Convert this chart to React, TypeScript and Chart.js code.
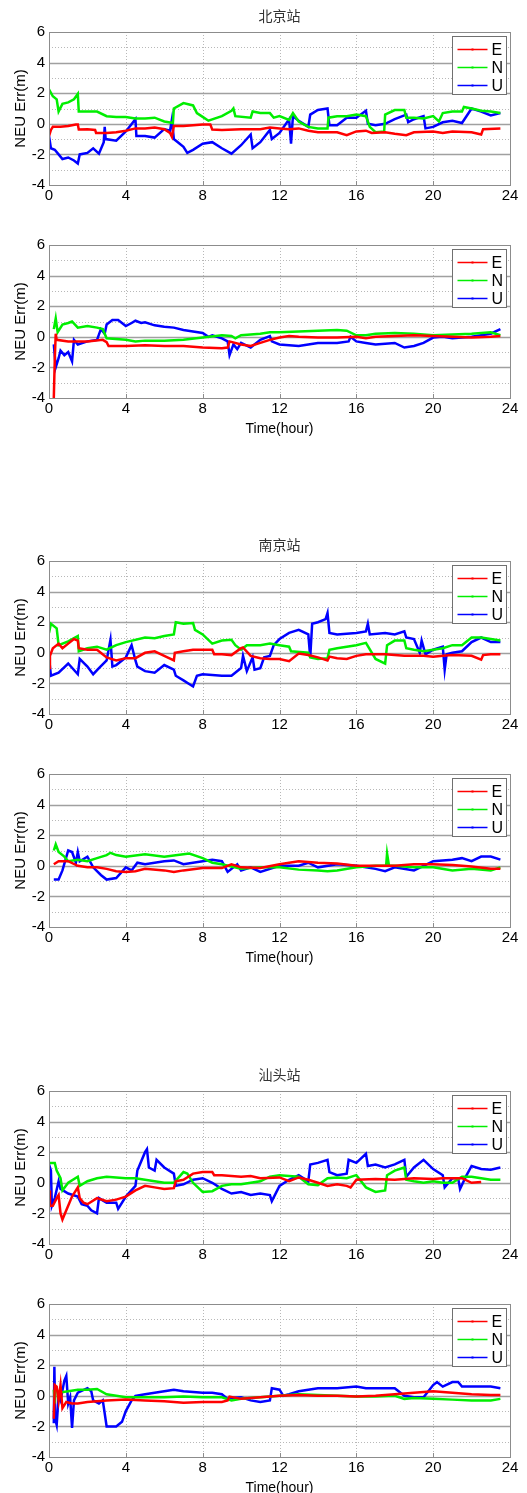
import React, { useEffect, useRef } from "react";
import { Chart, registerables } from "chart.js";

Chart.register(...registerables);

// ---------- DATA: [time(hour), error(m)] ----------
const X_TICKS = [0, 4, 8, 12, 16, 20, 24];
const Y_TICKS = [-4, -2, 0, 2, 4, 6];
const SERIES_LABELS = ["E", "N", "U"];
const SERIES_COLORS = ["#ff0000", "#00ee00", "#0000ff"];
const STATION_TITLES = ["北京站", "", "南京站", "", "汕头站", ""];

// Beijing, panel 1
const BJ1_E = [[0,-0.8],[0.1,-0.4],[0.2,-0.2],[0.6,-0.2],[1.0,-0.15],[1.4,-0.05],[1.5,-0.05],[1.55,-0.37],[2.0,-0.35],[2.4,-0.4],[2.45,-0.6],[3.0,-0.6],[3.5,-0.55],[4.0,-0.45],[4.5,-0.3],[5.0,-0.3],[5.5,-0.25],[6.0,-0.35],[6.3,-0.6],[6.4,-0.85],[6.5,-0.15],[7.0,-0.15],[7.5,-0.1],[8.0,-0.05],[8.4,-0.05],[8.5,-0.38],[9.0,-0.4],[10.0,-0.35],[11.0,-0.35],[11.5,-0.25],[12.0,-0.3],[12.5,-0.35],[13.0,-0.3],[13.5,-0.45],[14.0,-0.55],[15.0,-0.55],[15.5,-0.75],[16.0,-0.5],[16.5,-0.45],[16.8,-0.6],[17.5,-0.55],[18.0,-0.65],[18.6,-0.75],[19.0,-0.55],[20.0,-0.5],[20.5,-0.6],[21.0,-0.5],[22.0,-0.55],[22.5,-0.7],[22.6,-0.35],[23.5,-0.3]];
const BJ1_N = [[0,2.25],[0.2,1.8],[0.4,1.6],[0.5,0.8],[0.7,1.3],[1.0,1.4],[1.3,1.6],[1.5,1.95],[1.55,0.8],[2.0,0.8],[2.5,0.8],[3.0,0.5],[3.5,0.45],[4.0,0.45],[4.5,0.35],[5.0,0.35],[5.5,0.4],[6.0,0.15],[6.45,0.05],[6.5,1.0],[7.0,1.35],[7.5,1.2],[7.7,0.7],[8.0,0.45],[8.3,0.2],[9.0,0.5],[9.5,0.85],[9.6,1.0],[9.7,0.5],[10.5,0.4],[10.6,0.8],[11.0,0.7],[11.5,0.7],[11.7,0.4],[12.0,0.5],[12.5,0.25],[12.7,0.7],[13.0,0.15],[13.5,-0.2],[14.0,-0.3],[14.5,-0.3],[14.55,0.4],[15.0,0.5],[15.5,0.5],[16.0,0.6],[16.5,0.5],[16.7,-0.2],[17.0,-0.55],[17.45,-0.5],[17.5,0.6],[18.0,0.9],[18.5,0.9],[18.6,0.4],[19.0,0.4],[19.5,0.35],[20.0,0.5],[20.3,0.15],[20.5,0.7],[21.0,0.8],[21.5,0.8],[21.6,1.1],[22.0,1.0],[22.5,0.85],[23.0,0.8],[23.5,0.7]];
const BJ1_U = [[0,-0.8],[0.1,-1.6],[0.3,-1.7],[0.5,-2.0],[0.7,-2.3],[1.0,-2.2],[1.3,-2.4],[1.5,-2.6],[1.6,-2.0],[2.0,-1.9],[2.3,-1.6],[2.6,-1.95],[2.85,-1.2],[2.9,-0.2],[2.95,-1.0],[3.5,-1.1],[4.0,-0.5],[4.5,0.3],[4.55,-0.8],[5.0,-0.8],[5.5,-0.9],[6.0,-0.35],[6.3,-0.45],[6.4,0.3],[6.5,-1.0],[7.0,-1.5],[7.2,-1.9],[7.5,-1.7],[8.0,-1.3],[8.5,-1.2],[9.0,-1.6],[9.5,-1.95],[10.0,-1.4],[10.5,-0.7],[10.6,-1.6],[11.0,-1.2],[11.5,-0.4],[11.6,-1.0],[12.0,-0.6],[12.5,0.3],[12.6,-1.3],[12.7,0.5],[13.0,0.2],[13.5,-0.2],[13.6,0.6],[14.0,0.9],[14.5,1.0],[14.6,-0.1],[15.0,-0.1],[15.5,0.4],[16.0,0.4],[16.5,0.85],[16.6,0.0],[17.0,-0.1],[17.5,0.0],[18.0,0.3],[18.6,0.6],[18.7,0.1],[19.0,0.3],[19.5,0.5],[19.6,-0.3],[20.0,-0.2],[20.5,0.1],[21.0,0.2],[21.5,0.05],[22.0,1.0],[22.5,0.8],[23.0,0.55],[23.5,0.7]];

// Beijing, panel 2
const BJ2_E = [[0.25,-4.0],[0.3,-1.5],[0.35,0.2],[0.4,-0.2],[1.0,-0.3],[2.0,-0.3],[2.8,-0.2],[3.0,-0.35],[3.1,-0.6],[4.0,-0.6],[5.0,-0.55],[6.0,-0.6],[7.0,-0.6],[8.0,-0.7],[9.0,-0.75],[9.3,-0.7],[9.4,-0.3],[10.0,-0.5],[10.5,-0.6],[11.0,-0.4],[11.5,-0.2],[12.0,-0.05],[12.5,0.05],[13.0,0.0],[14.0,-0.05],[15.0,-0.05],[16.0,0.0],[16.5,-0.1],[17.0,0.0],[18.0,0.05],[19.0,0.1],[20.0,0.05],[21.0,0.0],[22.0,-0.05],[23.0,0.0],[23.5,0.05]];
const BJ2_N = [[0.25,0.5],[0.35,1.2],[0.45,0.3],[0.7,0.8],[1.0,0.9],[1.2,1.0],[1.5,0.6],[2.0,0.7],[2.5,0.6],[2.8,0.5],[3.0,-0.1],[4.0,-0.2],[4.5,-0.3],[5.0,-0.25],[6.0,-0.25],[7.0,-0.2],[8.0,-0.05],[9.0,0.1],[9.5,0.05],[9.7,-0.1],[10.0,0.1],[11.0,0.2],[11.5,0.3],[12.0,0.3],[13.0,0.35],[14.0,0.4],[15.0,0.45],[15.5,0.4],[16.0,0.1],[16.5,0.1],[17.0,0.2],[18.0,0.25],[19.0,0.2],[20.0,0.1],[21.0,0.15],[22.0,0.2],[23.0,0.3],[23.5,0.1]];
const BJ2_U = [[0.25,-0.5],[0.35,-2.0],[0.5,-1.4],[0.6,-0.9],[0.8,-1.2],[1.0,-1.0],[1.2,-1.6],[1.3,-0.2],[1.5,-0.5],[2.0,-0.3],[2.5,-0.2],[2.7,0.5],[2.9,0.2],[3.0,0.8],[3.3,1.1],[3.6,1.1],[4.0,0.7],[4.3,0.9],[4.5,1.05],[4.8,0.9],[5.0,0.95],[5.5,0.75],[6.0,0.65],[6.5,0.6],[7.0,0.45],[7.5,0.35],[8.0,0.25],[8.3,0.0],[8.5,0.1],[9.0,-0.1],[9.3,-0.3],[9.4,-1.2],[9.6,-0.5],[9.8,-0.8],[10.0,-0.4],[10.5,-0.7],[11.0,-0.2],[11.5,0.05],[11.6,-0.3],[12.0,-0.5],[13.0,-0.6],[13.5,-0.5],[14.0,-0.4],[15.0,-0.4],[15.6,-0.3],[15.7,0.0],[16.0,-0.3],[16.5,-0.4],[17.0,-0.5],[18.0,-0.4],[18.5,-0.7],[19.0,-0.6],[19.5,-0.4],[20.0,-0.05],[20.5,0.0],[21.0,-0.1],[22.0,0.0],[22.5,0.1],[23.0,0.2],[23.5,0.5]];

// Nanjing, panel 3
const NJ1_E = [[0,-1.0],[0.05,-0.2],[0.2,0.3],[0.5,0.6],[0.7,0.3],[1.0,0.6],[1.3,0.9],[1.5,0.8],[1.55,0.3],[2.0,0.2],[2.5,0.2],[3.0,-0.3],[3.5,-0.5],[4.0,-0.35],[4.5,-0.35],[5.0,0.0],[5.5,0.1],[6.0,-0.2],[6.5,-0.5],[6.55,0.0],[7.0,0.1],[7.5,0.2],[8.0,0.2],[8.5,0.2],[8.6,-0.1],[9.0,-0.1],[9.5,-0.15],[10.0,0.3],[10.1,0.35],[10.5,-0.2],[11.0,-0.35],[11.5,-0.4],[12.0,-0.4],[12.5,-0.55],[13.0,-0.05],[13.5,-0.15],[14.0,-0.3],[14.5,-0.5],[14.6,-0.25],[15.0,-0.35],[15.5,-0.4],[16.0,-0.2],[16.5,-0.1],[17.0,-0.1],[17.5,-0.1],[18.0,-0.15],[18.5,-0.2],[19.0,-0.2],[19.5,-0.2],[20.0,-0.25],[20.5,-0.2],[21.0,-0.15],[22.0,-0.2],[22.5,-0.45],[22.6,-0.15],[23.0,-0.1],[23.5,-0.1]];
const NJ1_N = [[0,1.3],[0.1,1.9],[0.4,1.6],[0.5,0.5],[1.0,0.75],[1.5,1.1],[1.55,0.1],[2.0,0.3],[2.5,0.4],[3.0,0.2],[3.5,0.5],[4.0,0.7],[5.0,1.0],[5.5,0.95],[6.0,1.1],[6.5,1.2],[6.6,2.0],[7.0,1.9],[7.5,1.95],[7.6,1.5],[8.0,1.2],[8.5,0.6],[9.0,0.8],[9.5,0.85],[9.7,0.5],[10.0,0.2],[10.3,0.5],[11.0,0.5],[11.5,0.6],[12.0,0.5],[12.5,0.4],[12.6,0.1],[13.5,0.0],[13.6,-0.3],[14.0,-0.4],[14.5,-0.35],[14.6,0.2],[15.0,0.3],[16.0,0.5],[16.5,0.65],[17.0,-0.4],[17.5,-0.7],[17.6,0.5],[18.0,0.8],[18.5,0.8],[18.6,0.3],[19.0,0.2],[19.5,0.1],[20.0,0.2],[20.5,0.3],[21.0,0.5],[21.5,0.5],[22.0,1.0],[22.5,1.0],[23.0,0.9],[23.5,0.8]];
const NJ1_U = [[0,-0.3],[0.1,-1.5],[0.5,-1.3],[1.0,-0.7],[1.5,-1.4],[1.6,-0.4],[2.0,-0.9],[2.3,-1.4],[2.6,-1.0],[3.0,-0.5],[3.2,0.85],[3.3,-0.9],[3.5,-0.8],[4.0,-0.3],[4.3,0.5],[4.5,-0.5],[4.6,-0.9],[5.0,-1.2],[5.5,-1.3],[6.0,-0.8],[6.5,-1.1],[6.6,-1.5],[7.0,-1.8],[7.5,-2.2],[7.7,-1.5],[8.0,-1.4],[9.0,-1.5],[9.5,-1.5],[10.0,-1.0],[10.1,-0.2],[10.3,-1.2],[10.6,-0.3],[10.7,-1.1],[11.0,-1.0],[11.2,-0.3],[11.5,-0.2],[11.7,0.5],[12.0,0.9],[12.5,1.3],[13.0,1.5],[13.5,1.2],[13.6,-0.3],[13.7,1.9],[14.0,2.0],[14.4,2.2],[14.5,2.6],[14.6,1.3],[15.0,1.2],[16.0,1.3],[16.5,1.4],[16.6,1.9],[16.7,1.2],[17.5,1.3],[18.0,1.2],[18.5,1.4],[18.6,1.0],[19.0,0.9],[19.3,0.0],[19.4,0.8],[19.6,-0.1],[20.0,0.2],[20.5,0.4],[20.6,-1.1],[20.7,-0.1],[21.0,0.0],[21.5,0.1],[22.0,0.7],[22.5,1.0],[23.0,0.7],[23.5,0.7]];

// Nanjing, panel 4
const NJ2_E = [[0.25,0.1],[0.5,0.3],[1.0,0.3],[1.5,0.0],[2.0,-0.1],[2.5,-0.1],[3.0,-0.2],[3.5,-0.35],[4.0,-0.4],[4.5,-0.35],[5.0,-0.2],[6.0,-0.3],[6.5,-0.4],[7.0,-0.3],[8.0,-0.15],[9.0,-0.15],[9.5,0.1],[10.0,-0.1],[11.0,-0.15],[12.0,0.1],[13.0,0.3],[14.0,0.2],[15.0,0.15],[16.0,0.0],[17.0,0.0],[18.0,0.0],[19.0,0.1],[20.0,0.1],[21.0,0.05],[22.0,-0.05],[23.0,-0.2],[23.5,-0.2]];
const NJ2_N = [[0.25,1.0],[0.35,1.4],[0.5,0.9],[0.8,0.6],[1.0,0.3],[1.5,0.4],[2.0,0.3],[2.5,0.5],[3.0,0.7],[3.2,0.85],[3.5,0.7],[4.0,0.6],[5.0,0.75],[6.0,0.6],[7.0,0.75],[7.3,0.8],[8.0,0.5],[8.5,0.2],[9.0,0.1],[10.0,-0.2],[11.0,-0.1],[12.0,-0.1],[13.0,-0.25],[14.0,-0.3],[14.5,-0.35],[15.0,-0.3],[16.0,-0.1],[17.0,0.0],[17.55,0.0],[17.6,0.8],[17.7,0.0],[18.0,0.0],[19.0,-0.1],[20.0,-0.1],[21.0,-0.3],[22.0,-0.2],[23.0,-0.3],[23.5,-0.1]];
const NJ2_U = [[0.25,-0.9],[0.5,-0.9],[0.7,-0.3],[1.0,1.0],[1.2,0.9],[1.4,0.2],[1.5,0.9],[1.6,0.3],[2.0,0.6],[2.3,-0.1],[2.7,-0.6],[3.0,-0.9],[3.5,-0.8],[4.0,-0.1],[4.3,-0.3],[4.6,0.2],[5.0,0.1],[6.0,0.3],[6.5,0.35],[7.0,0.1],[8.0,0.3],[8.5,0.4],[9.0,0.3],[9.3,-0.4],[9.8,0.1],[10.0,-0.3],[10.5,-0.1],[11.0,-0.4],[12.0,0.0],[13.0,0.0],[13.5,0.2],[14.0,-0.1],[15.0,0.1],[16.0,0.0],[17.0,-0.2],[17.5,-0.35],[18.0,-0.1],[19.0,-0.3],[19.5,0.0],[20.0,0.3],[21.0,0.4],[21.5,0.5],[22.0,0.3],[22.5,0.6],[23.0,0.6],[23.5,0.4]];

// Shantou, panel 5
const ST1_E = [[0,-0.5],[0.05,-1.5],[0.2,-1.5],[0.4,-1.0],[0.5,-0.8],[0.6,-2.0],[0.7,-2.4],[0.9,-1.8],[1.2,-0.9],[1.5,-0.3],[1.6,-1.0],[1.8,-1.3],[2.0,-1.4],[2.5,-1.0],[3.0,-1.2],[3.5,-1.1],[4.0,-0.9],[4.5,-0.5],[5.0,-0.2],[5.5,-0.3],[6.0,-0.4],[6.5,-0.35],[6.6,0.1],[7.0,0.2],[7.5,0.6],[8.0,0.7],[8.5,0.7],[8.6,0.5],[9.0,0.5],[10.0,0.4],[10.5,0.45],[11.0,0.3],[12.0,0.35],[12.5,0.1],[13.0,0.35],[13.5,0.2],[14.0,0.0],[14.5,-0.2],[15.0,-0.1],[15.5,-0.2],[15.7,-0.3],[16.0,0.2],[17.0,0.25],[18.0,0.2],[19.0,0.3],[20.0,0.25],[20.5,0.3],[21.0,0.3],[21.5,0.3],[22.0,0.0],[22.5,0.05]];
const ST1_N = [[0,1.3],[0.1,1.3],[0.3,1.3],[0.4,0.8],[0.6,0.3],[0.7,-0.5],[1.0,0.0],[1.5,0.4],[1.6,-0.2],[2.0,0.1],[2.5,0.3],[3.0,0.4],[4.0,0.3],[4.5,0.3],[5.0,0.2],[5.5,0.1],[6.0,0.0],[6.5,0.0],[7.0,0.7],[7.2,0.6],[7.5,0.0],[8.0,-0.6],[8.5,-0.55],[9.0,-0.2],[9.5,-0.1],[10.0,-0.1],[11.0,0.1],[11.5,0.4],[12.0,0.5],[12.5,0.45],[13.0,0.4],[13.5,-0.1],[14.0,-0.15],[14.5,0.3],[15.0,0.35],[15.5,0.3],[16.0,0.5],[16.5,-0.3],[17.0,-0.6],[17.5,-0.5],[17.6,0.5],[18.0,0.8],[18.5,1.0],[18.6,0.2],[19.0,0.1],[19.5,0.0],[20.0,0.1],[20.5,0.0],[21.0,0.0],[21.5,0.4],[22.0,0.4],[22.5,0.3],[23.0,0.2],[23.5,0.2]];
const ST1_U = [[0,1.2],[0.1,0.8],[0.15,-1.5],[0.3,-1.0],[0.5,0.1],[0.6,-0.4],[1.0,-0.7],[1.5,-0.9],[1.7,-1.4],[2.0,-1.5],[2.2,-1.8],[2.5,-2.0],[2.6,-1.0],[3.0,-1.3],[3.5,-1.3],[3.6,-1.7],[4.0,-0.9],[4.5,-0.2],[4.6,0.8],[5.0,2.0],[5.1,2.2],[5.2,1.0],[5.5,0.8],[5.6,1.5],[6.0,1.0],[6.5,0.6],[6.6,-0.2],[7.0,-0.1],[7.5,0.2],[8.0,0.3],[8.5,0.0],[9.0,-0.4],[9.5,-0.7],[10.0,-0.6],[10.5,-0.8],[11.0,-0.7],[11.5,-0.8],[11.6,-1.2],[12.0,-0.2],[12.5,0.2],[13.0,0.5],[13.5,0.1],[13.6,1.2],[14.0,1.3],[14.5,1.5],[14.6,0.7],[15.0,0.5],[15.5,0.6],[15.6,1.5],[16.0,1.3],[16.5,1.9],[16.6,1.1],[17.0,1.2],[17.5,1.0],[18.0,1.2],[18.5,1.5],[18.6,0.4],[19.0,1.0],[19.5,1.5],[20.0,0.9],[20.5,0.5],[20.6,-0.3],[21.0,0.3],[21.3,0.3],[21.4,-0.4],[21.7,0.4],[22.0,1.1],[22.5,0.9],[23.0,0.85],[23.5,1.0]];

// Shantou, panel 6
const ST2_E = [[0.25,-1.5],[0.3,0.7],[0.4,0.6],[0.5,-0.3],[0.6,0.7],[0.7,-0.8],[0.9,-0.4],[1.2,-0.5],[1.5,-0.5],[2.0,-0.4],[3.0,-0.3],[4.0,-0.25],[5.0,-0.3],[6.0,-0.35],[7.0,-0.45],[8.0,-0.4],[9.0,-0.4],[9.3,-0.3],[9.4,-0.05],[10.0,-0.2],[11.0,-0.1],[12.0,0.0],[13.0,0.05],[14.0,0.0],[15.0,0.0],[16.0,-0.05],[17.0,0.0],[18.0,0.1],[19.0,0.2],[20.0,0.3],[21.0,0.2],[22.0,0.1],[23.0,0.05],[23.5,0.05]];
const ST2_N = [[0.25,0.4],[0.3,-0.5],[0.35,0.5],[0.5,0.2],[1.0,0.3],[1.5,0.4],[2.0,0.4],[2.5,0.45],[3.0,0.1],[3.5,0.0],[4.0,-0.1],[5.0,-0.1],[6.0,-0.1],[7.0,-0.05],[8.0,-0.1],[9.0,-0.1],[9.5,-0.3],[10.0,-0.2],[11.0,-0.1],[12.0,0.0],[13.0,0.1],[14.0,0.05],[15.0,0.0],[16.0,-0.05],[17.0,-0.05],[18.0,0.0],[18.5,-0.2],[19.0,-0.15],[20.0,-0.2],[21.0,-0.25],[22.0,-0.3],[23.0,-0.3],[23.5,-0.2]];
const ST2_U = [[0.25,-1.8],[0.28,1.9],[0.32,-1.5],[0.4,-1.9],[0.5,0.0],[0.6,-0.3],[0.8,1.0],[0.9,1.3],[1.0,-0.5],[1.1,-0.1],[1.2,-2.1],[1.3,-0.3],[1.5,0.2],[2.0,0.5],[2.2,0.3],[2.3,-0.3],[2.6,-0.5],[2.8,-0.3],[3.0,-2.0],[3.5,-2.0],[3.8,-1.7],[4.0,-1.0],[4.3,-0.3],[4.5,0.0],[5.0,0.1],[5.5,0.2],[6.0,0.3],[6.5,0.4],[7.0,0.3],[8.0,0.2],[8.5,0.2],[9.0,0.1],[9.3,-0.2],[9.5,-0.15],[10.0,-0.1],[10.5,-0.3],[11.0,-0.4],[11.5,-0.3],[11.6,0.5],[12.0,0.4],[12.2,0.0],[12.5,0.1],[13.0,0.3],[13.5,0.4],[14.0,0.5],[15.0,0.5],[16.0,0.6],[16.5,0.5],[17.0,0.5],[17.5,0.5],[18.0,0.5],[18.5,0.0],[19.0,-0.1],[19.5,-0.1],[20.0,0.7],[20.2,0.9],[20.5,0.6],[21.0,0.9],[21.3,0.9],[21.5,0.6],[22.0,0.6],[23.0,0.6],[23.5,0.5]];

const PANEL_SERIES = [
  [BJ1_E, BJ1_N, BJ1_U],
  [BJ2_E, BJ2_N, BJ2_U],
  [NJ1_E, NJ1_N, NJ1_U],
  [NJ2_E, NJ2_N, NJ2_U],
  [ST1_E, ST1_N, ST1_U],
  [ST2_E, ST2_N, ST2_U],
];

// ---------- LAYOUT ----------
const PLOT_TOPS = [32, 245, 561, 774, 1091, 1304];
const PLOT_H = 153;
const PAD_TOP = 30;
const SHOW_XTITLE = [false, true, false, true, false, true];
const FONT = "'Liberation Sans', Arial, sans-serif";

const matlabPlugin = {
  id: "matlabPlot",
  beforeDatasetsDraw(chart: any) {
    const { ctx, chartArea: a, scales } = chart;
    const xs = scales.x, ys = scales.y;
    ctx.save();
    for (let v = -3; v <= 5; v++) {
      const y = Math.round(ys.getPixelForValue(v)) + 0.5;
      ctx.beginPath();
      if (v % 2 === 0) {
        ctx.setLineDash([]);
        ctx.strokeStyle = "#a0a0a0";
        ctx.lineWidth = 1.4;
      } else {
        ctx.setLineDash([1, 2]);
        ctx.strokeStyle = "#b8b8b8";
        ctx.lineWidth = 1;
      }
      ctx.moveTo(a.left, y);
      ctx.lineTo(a.right, y);
      ctx.stroke();
    }
    ctx.setLineDash([1, 2]);
    ctx.strokeStyle = "#b8b8b8";
    ctx.lineWidth = 1;
    for (const t of X_TICKS) {
      if (t <= 0 || t >= 24) continue;
      const x = Math.round(xs.getPixelForValue(t)) + 0.5;
      ctx.beginPath();
      ctx.moveTo(x, a.top);
      ctx.lineTo(x, a.bottom);
      ctx.stroke();
    }
    ctx.restore();
  },
  afterDatasetsDraw(chart: any, _args: any, opts: any) {
    const { ctx, chartArea: a, scales } = chart;
    const xs = scales.x;
    ctx.save();
    ctx.setLineDash([]);
    ctx.strokeStyle = "#8c8c8c";
    ctx.lineWidth = 1;
    ctx.strokeRect(Math.round(a.left) + 0.5, Math.round(a.top) + 0.5, Math.round(a.right - a.left), Math.round(a.bottom - a.top));
    for (const t of X_TICKS) {
      const x = Math.round(xs.getPixelForValue(t)) + 0.5;
      ctx.beginPath();
      ctx.moveTo(x, a.bottom);
      ctx.lineTo(x, a.bottom - 4);
      ctx.stroke();
    }
    const bw = 54, bh = 58;
    const bx = Math.round(a.right - 4 - bw) + 0.5;
    const by = Math.round(a.top + 4) + 0.5;
    ctx.fillStyle = "#ffffff";
    ctx.fillRect(bx, by, bw, bh);
    ctx.strokeStyle = "#707070";
    ctx.strokeRect(bx, by, bw, bh);
    ctx.font = `16px ${FONT}`;
    ctx.textBaseline = "middle";
    ctx.textAlign = "left";
    chart.data.datasets.forEach((ds: any, i: number) => {
      const ly = by + 13 + i * 18;
      ctx.strokeStyle = ds.borderColor;
      ctx.lineWidth = 1.5;
      ctx.beginPath();
      ctx.moveTo(bx + 5, ly);
      ctx.lineTo(bx + 35, ly);
      ctx.stroke();
      ctx.fillStyle = ds.borderColor;
      ctx.fillRect(bx + 19, ly - 1, 2, 2);
      ctx.fillStyle = "#000";
      ctx.fillText(ds.label, bx + 39, ly + 1);
    });
    if (opts && opts.title) {
      ctx.font = `14px 'Noto Sans CJK SC', sans-serif`;
      ctx.fillStyle = "#333";
      ctx.textAlign = "center";
      ctx.textBaseline = "middle";
      ctx.fillText(opts.title, (a.left + a.right) / 2, a.top - 16);
    }
    ctx.restore();
  },
};

function Panel({ index }: { index: number }) {
  const ref = useRef<HTMLCanvasElement>(null);
  const xh = SHOW_XTITLE[index] ? 40 : 24;
  const height = PAD_TOP + PLOT_H + xh;
  useEffect(() => {
    if (!ref.current) return;
    const series = PANEL_SERIES[index];
    const chart = new Chart(ref.current, {
      type: "line",
      data: {
        datasets: series.map((pts, i) => ({
          label: SERIES_LABELS[i],
          data: pts.map(([x, y]) => ({ x, y })),
          borderColor: SERIES_COLORS[i],
          backgroundColor: SERIES_COLORS[i],
          borderWidth: 2.5,
          pointRadius: 0,
          tension: 0,
          fill: false,
        })),
      },
      options: {
        animation: false,
        responsive: false,
        maintainAspectRatio: false,
        devicePixelRatio: 1,
        layout: { padding: { left: 0, right: 17, top: PAD_TOP, bottom: 0 } },
        plugins: {
          legend: { display: false },
          tooltip: { enabled: false },
          title: { display: false },
          matlabPlot: { title: STATION_TITLES[index] },
        } as any,
        scales: {
          x: {
            type: "linear",
            min: 0,
            max: 24,
            afterBuildTicks: (s: any) => { s.ticks = X_TICKS.map((v) => ({ value: v })); },
            afterFit: (s: any) => { s.height = xh; },
            ticks: { padding: 2, color: "#000", font: { family: FONT, size: 15 }, maxRotation: 0, autoSkip: false },
            grid: { display: false, drawTicks: false },
            border: { display: false },
            title: {
              display: SHOW_XTITLE[index],
              text: "Time(hour)",
              color: "#000",
              font: { family: FONT, size: 14 },
              padding: { top: 0, bottom: 0 },
            },
          },
          y: {
            type: "linear",
            min: -4,
            max: 6,
            afterBuildTicks: (s: any) => { s.ticks = Y_TICKS.map((v) => ({ value: v })); },
            afterFit: (s: any) => { s.width = 49; },
            ticks: { padding: 4, color: "#000", font: { family: FONT, size: 15 } },
            grid: { display: false, drawTicks: false },
            border: { display: false },
            title: {
              display: true,
              text: "NEU Err(m)",
              color: "#000",
              font: { family: FONT, size: 15 },
              padding: { top: 12, bottom: 0 },
            },
          },
        },
      } as any,
      plugins: [matlabPlugin],
    });
    return () => chart.destroy();
  }, [index]);
  return (
    <canvas
      ref={ref}
      width={527}
      height={height}
      style={{ position: "absolute", left: 0, top: PLOT_TOPS[index] - PAD_TOP, width: 527, height }}
    />
  );
}

export default function App() {
  return (
    <div style={{ position: "absolute", left: 0, top: 0, width: 527, height: 1493, background: "#fff" }}>
      {PANEL_SERIES.map((_, i) => (
        <Panel key={i} index={i} />
      ))}
    </div>
  );
}
